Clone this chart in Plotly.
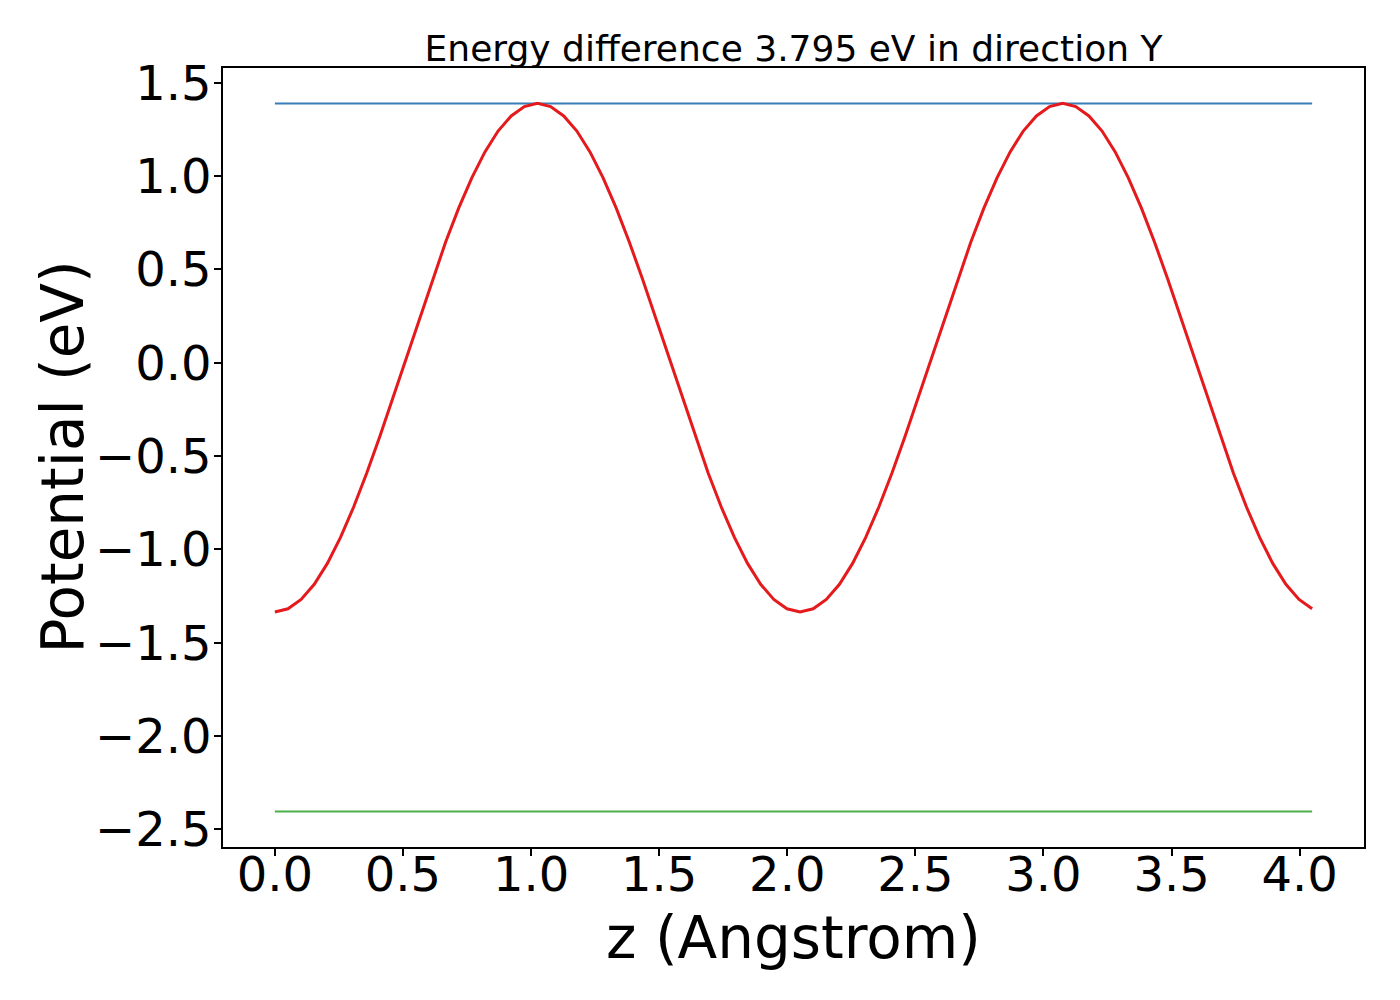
import plotly.graph_objects as go

# z grid (Angstrom), 80 points
z = [0.0, 0.05125, 0.1025, 0.15375, 0.205, 0.25625, 0.3075, 0.35875, 0.41, 0.46125,
     0.5125, 0.56375, 0.615, 0.66625, 0.7175, 0.76875, 0.82, 0.87125, 0.9225, 0.97375,
     1.025, 1.07625, 1.1275, 1.17875, 1.23, 1.28125, 1.3325, 1.38375, 1.435, 1.48625,
     1.5375, 1.58875, 1.64, 1.69125, 1.7425, 1.79375, 1.845, 1.89625, 1.9475, 1.99875,
     2.05, 2.10125, 2.1525, 2.20375, 2.255, 2.30625, 2.3575, 2.40875, 2.46, 2.51125,
     2.5625, 2.61375, 2.665, 2.71625, 2.7675, 2.81875, 2.87, 2.92125, 2.9725, 3.02375,
     3.075, 3.12625, 3.1775, 3.22875, 3.28, 3.33125, 3.3825, 3.43375, 3.485, 3.53625,
     3.5875, 3.63875, 3.69, 3.74125, 3.7925, 3.84375, 3.895, 3.94625, 3.9975, 4.04875]

# potential along z (eV)
potential = [-1.335, -1.318, -1.268, -1.187, -1.075, -0.936, -0.773, -0.591, -0.394, -0.186,
             0.028, 0.241, 0.449, 0.646, 0.829, 0.991, 1.130, 1.242, 1.323, 1.373,
             1.390, 1.373, 1.323, 1.242, 1.130, 0.991, 0.829, 0.646, 0.449, 0.241,
             0.028, -0.186, -0.394, -0.591, -0.773, -0.936, -1.075, -1.187, -1.268, -1.318,
             -1.335, -1.318, -1.268, -1.187, -1.075, -0.936, -0.773, -0.591, -0.394, -0.186,
             0.028, 0.241, 0.449, 0.646, 0.829, 0.991, 1.130, 1.242, 1.323, 1.373,
             1.390, 1.373, 1.323, 1.242, 1.130, 0.991, 0.829, 0.646, 0.449, 0.241,
             0.028, -0.186, -0.394, -0.591, -0.773, -0.936, -1.075, -1.187, -1.268, -1.318]

v_max = 1.390
v_min = -2.405
delta = 3.795
direction = 'Y'

font_family = "DejaVu Sans, sans-serif"

fig = go.Figure()
fig.add_trace(go.Scatter(x=[z[0], z[-1]], y=[v_max, v_max], mode='lines',
                         line=dict(color='#377eb8', width=2), showlegend=False))
fig.add_trace(go.Scatter(x=[z[0], z[-1]], y=[v_min, v_min], mode='lines',
                         line=dict(color='#4daf4a', width=2), showlegend=False))
fig.add_trace(go.Scatter(x=z, y=potential, mode='lines',
                         line=dict(color='#e41a1c', width=3), showlegend=False))

# matplotlib style 5% margins
xpad = 0.05 * (z[-1] - z[0])
ypad = 0.05 * (v_max - v_min)

# page body has an 8px margin, so the margins are shifted by that
fig.update_layout(
    width=1400,
    height=1000,
    paper_bgcolor='white',
    plot_bgcolor='white',
    margin=dict(l=215, r=44, t=60, b=161),
    font=dict(family=font_family, color='black'),
    title=dict(text='Energy difference %.3f eV in direction %s' % (delta, direction),
               font=dict(size=36, family=font_family, color='black'),
               x=0.5, xref='paper', xanchor='center',
               y=0.947, yref='container', yanchor='bottom'),
    showlegend=False,
)
# axis titles as annotations so they sit where matplotlib put them
fig.add_annotation(text='z (Angstrom)', xref='paper', yref='paper', x=0.5, y=-0.1168,
                   xanchor='center', yanchor='middle', showarrow=False,
                   font=dict(size=58, family=font_family, color='black'))
fig.add_annotation(text='Potential (eV)', xref='paper', yref='paper', x=-0.1411, y=0.5,
                   xanchor='center', yanchor='middle', textangle=-90, showarrow=False,
                   font=dict(size=58, family=font_family, color='black'))

fig.update_xaxes(range=[z[0] - xpad, z[-1] + xpad],
                 tickmode='linear', tick0=0, dtick=0.5, tickformat='.1f',
                 tickfont=dict(size=48), ticklabelstandoff=-22,
                 showgrid=False, zeroline=False,
                 showline=True, linecolor='black', linewidth=1.6, mirror=True,
                 ticks='outside', ticklen=7, tickwidth=1.6, tickcolor='black')
fig.update_yaxes(range=[v_min - ypad, v_max + ypad],
                 tickmode='linear', tick0=0, dtick=0.5, tickformat='.1f',
                 tickfont=dict(size=48), ticklabelstandoff=-7,
                 showgrid=False, zeroline=False,
                 showline=True, linecolor='black', linewidth=1.6, mirror=True,
                 ticks='outside', ticklen=7, tickwidth=1.6, tickcolor='black')

fig.write_html("out.html")
